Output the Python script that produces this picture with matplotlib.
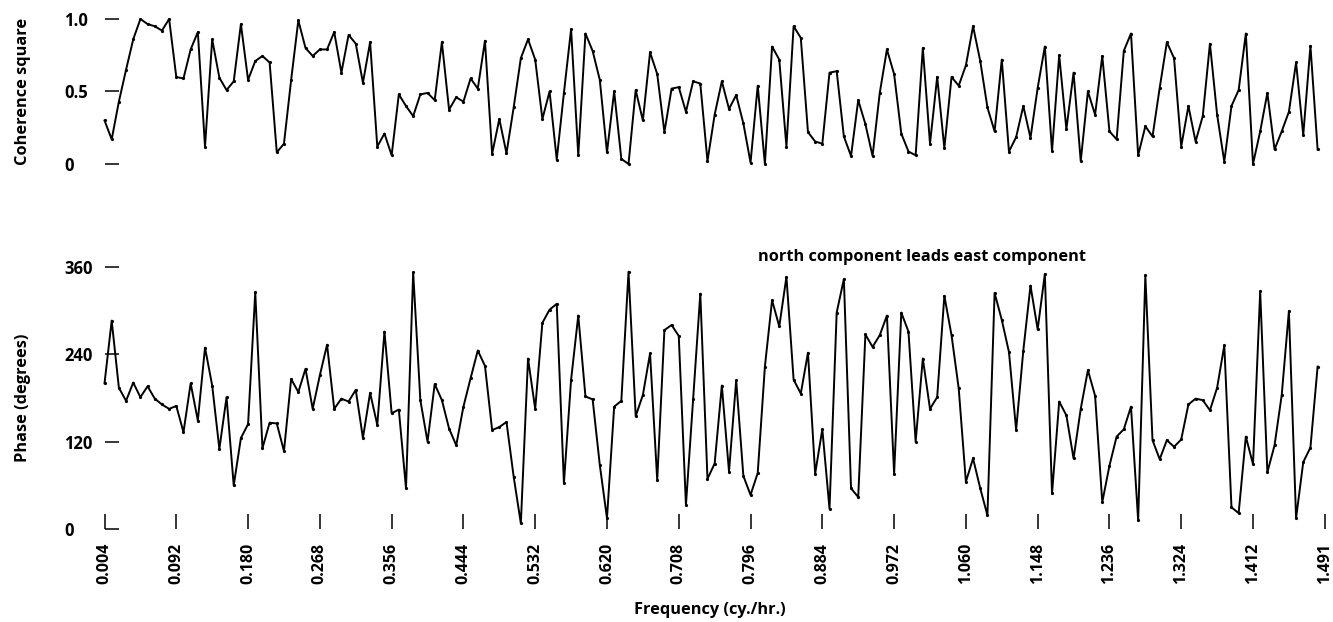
import numpy as np
import matplotlib
matplotlib.use("Agg")
import matplotlib.pyplot as plt

plt.rcParams['font.family'] = ['Open Sans', 'DejaVu Sans']
plt.rcParams['font.weight'] = 'bold'

# frequency grid (cy./hr.): 170 estimates, 0.0088 apart
freq_start = 0.004
freq_step = 0.0088
n_freq = 170
freq = freq_start + freq_step * np.arange(n_freq)

# coherence square
coherence = [
    0.30, 0.17, 0.43, 0.65, 0.86, 1.00, 0.965, 0.95, 0.92, 1.00,
    0.60, 0.59, 0.79, 0.91, 0.12, 0.86, 0.595, 0.51, 0.57, 0.965,
    0.58, 0.71, 0.745, 0.70, 0.08, 0.14, 0.58, 0.99, 0.80, 0.745,
    0.79, 0.79, 0.91, 0.63, 0.89, 0.83, 0.56, 0.84, 0.12, 0.21,
    0.06, 0.48, 0.40, 0.33, 0.48, 0.49, 0.44, 0.84, 0.375, 0.46,
    0.43, 0.59, 0.52, 0.85, 0.07, 0.31, 0.074, 0.39, 0.73, 0.86,
    0.72, 0.31, 0.50, 0.03, 0.49, 0.93, 0.06, 0.90, 0.78, 0.58,
    0.08, 0.50, 0.035, 0.00, 0.51, 0.30, 0.77, 0.62, 0.22, 0.52,
    0.53, 0.36, 0.57, 0.555, 0.02, 0.34, 0.57, 0.38, 0.475, 0.28,
    0.01, 0.54, 0.00, 0.81, 0.72, 0.12, 0.95, 0.87, 0.22, 0.155,
    0.14, 0.63, 0.64, 0.19, 0.055, 0.44, 0.275, 0.055, 0.49, 0.79,
    0.62, 0.21, 0.086, 0.06, 0.80, 0.14, 0.60, 0.11, 0.60, 0.54,
    0.68, 0.95, 0.71, 0.39, 0.225, 0.72, 0.086, 0.185, 0.40, 0.18,
    0.525, 0.81, 0.09, 0.75, 0.24, 0.63, 0.02, 0.50, 0.34, 0.745,
    0.225, 0.17, 0.78, 0.90, 0.06, 0.26, 0.19, 0.525, 0.84, 0.73,
    0.12, 0.40, 0.155, 0.33, 0.83, 0.34, 0.016, 0.40, 0.51, 0.90,
    0.00, 0.225, 0.49, 0.10, 0.225, 0.36, 0.70, 0.20, 0.815, 0.10,
]

# phase in degrees
phase = [
    200, 286, 194, 176, 201, 181, 196, 179, 171, 165,
    169, 133, 200, 149, 249, 197, 110, 181, 60, 125,
    144, 325, 111, 146, 145, 107, 206, 188, 220, 165,
    211, 253, 165, 179, 175, 191, 125, 187, 143, 271,
    159, 164, 56, 352, 177, 120, 199, 177, 138, 115,
    168, 207, 245, 224, 136, 140, 147, 72, 8, 234,
    165, 283, 301, 309, 63, 205, 293, 182, 178, 88,
    15, 168, 176, 353, 155, 184, 241, 67, 273, 280,
    265, 33, 178, 323, 69, 90, 197, 79, 204, 73,
    47, 77, 223, 314, 278, 346, 205, 186, 242, 76,
    137, 28, 297, 343, 56, 44, 267, 250, 266, 293,
    76, 297, 271, 120, 234, 165, 181, 320, 266, 193,
    65, 97, 56, 19, 324, 287, 243, 136, 245, 334,
    274, 350, 49, 175, 156, 97, 165, 218, 183, 37,
    87, 127, 137, 168, 12, 348, 122, 96, 122, 113,
    123, 171, 179, 177, 163, 194, 252, 30, 22, 127,
    89, 326, 78, 115, 184, 299, 15, 92, 112, 223,
]

coh_ticks = [0, 0.5, 1.0]
coh_labels = ['0', '0.5', '1.0']
phase_ticks = [0, 120, 240, 360]
phase_labels = ['0', '120', '240', '360']
freq_labels = ['0.004', '0.092', '0.180', '0.268', '0.356', '0.444',
               '0.532', '0.620', '0.708', '0.796', '0.884', '0.972',
               '1.060', '1.148', '1.236', '1.324', '1.412', '1.491']
freq_ticks = freq_start + 0.088 * np.arange(len(freq_labels))

fig = plt.figure(figsize=(13.33, 6.22), dpi=100)
ax_top = fig.add_axes([0.0729, 0.7247, 0.924, 0.2564])
ax_bot = fig.add_axes([0.0729, 0.1375, 0.924, 0.4455])

line_kw = dict(color='black', lw=1.4, marker='o', ms=2.3, mew=0)
ax_top.plot(freq, coherence, **line_kw)
ax_bot.plot(freq, phase, **line_kw)

for ax in (ax_top, ax_bot):
    ax.set_xlim(-0.005, 1.505)
    for s in ax.spines.values():
        s.set_visible(False)
    ax.spines['left'].set_position(('data', freq_start))
    ax.tick_params(axis='y', direction='in', length=10, width=1.1,
                   pad=29, labelsize=12)

ax_top.set_ylim(-0.05, 1.05)
ax_top.set_yticks(coh_ticks)
ax_top.set_yticklabels(coh_labels)
ax_top.set_xticks([])
ax_top.set_ylabel('Coherence square', fontsize=11.8, fontweight='bold')
ax_top.yaxis.set_label_coords(-0.054, 0.5)

ax_bot.set_ylim(-10, 370)
ax_bot.set_yticks(phase_ticks)
ax_bot.set_yticklabels(phase_labels)
ax_bot.spines['bottom'].set_position(('data', 0))
ax_bot.set_xticks(freq_ticks)
ax_bot.set_xticklabels(freq_labels, rotation=90)
ax_bot.tick_params(axis='x', direction='in', length=11, width=1.1,
                   pad=10, labelsize=11.5)
ax_bot.set_ylabel('Phase (degrees)', fontsize=11.8, fontweight='bold')
ax_bot.yaxis.set_label_coords(-0.054, 0.5)
ax_bot.set_xlabel('Frequency (cy./hr.)', fontsize=11.8, fontweight='bold')
ax_bot.xaxis.set_label_coords(0.497, -0.235)

for ax in (ax_top, ax_bot):
    for lbl in ax.get_yticklabels():
        lbl.set_horizontalalignment('left')

ax_bot.text(1.006, 373, 'north component leads east component',
            ha='center', va='center', fontsize=11.8, fontweight='bold',
            clip_on=False)

fig.savefig('out.png', dpi=100)
